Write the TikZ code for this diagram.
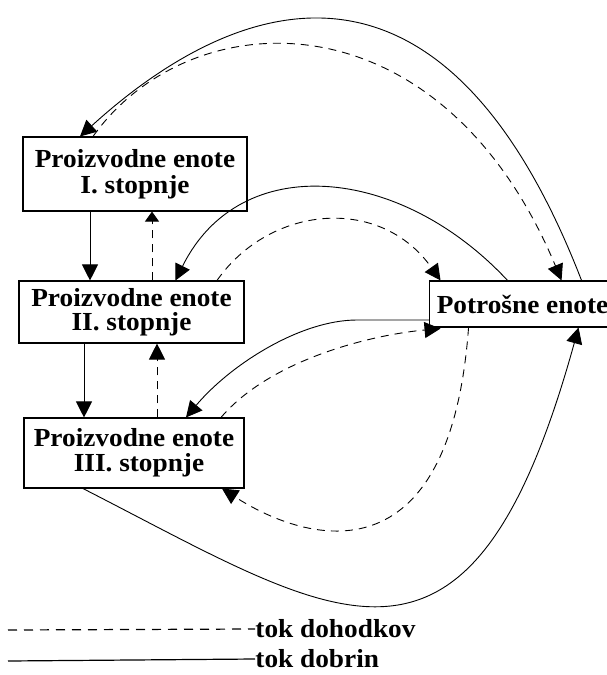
\documentclass[tikz,border=0pt]{standalone}
\usepackage{fontspec}
\setmainfont{Liberation Serif}[FakeStretch=1.05]
\usetikzlibrary{arrows.meta}

\begin{document}
\begin{tikzpicture}[
  x=1pt, y=-1pt,
  font=\fontsize{26}{26}\selectfont\bfseries,
  >={Triangle[length=16pt,width=16pt]},
  line width=0.9pt,
  blk/.style={rectangle, draw=black, line width=1.1pt, align=center, inner sep=0pt},
  dsh/.style={dash pattern=on 8pt off 6pt},
]
\useasboundingbox (0,0) rectangle (607,675);
% production and consumption units
\node[blk, minimum width=224pt, minimum height=74pt] (prI) at (135,174) {Proizvodne enote\\I. stopnje};
\node[blk, minimum width=225pt, minimum height=62pt] (prII) at (131.5,312) {Proizvodne enote\\[-2pt]II. stopnje};
\node[blk, minimum width=220pt, minimum height=70pt] (prIII) at (134,453) {Proizvodne enote\\[-1pt]\hspace*{10pt}III. stopnje};
\node[blk, minimum width=186pt, minimum height=46pt, anchor=west] (pot) at (429,304) {Potrošne enote};
% flows between the stages
\draw[->] ([xshift=-45pt]prI.south) -- ([xshift=-45pt]prI.south |- prII.north);
\draw[->, dsh, >={Triangle[length=10pt,width=14pt]}] ([xshift=17pt]prI.south |- prII.north) -- ([xshift=17pt]prI.south);
\draw[->] ([xshift=-47.5pt]prII.south) -- ([xshift=-47.5pt]prII.south |- prIII.north);
\draw[->, dsh] ([xshift=25.5pt]prII.south |- prIII.north) -- ([xshift=25.5pt]prII.south);
% flows to and from the consumers
\draw[->] ([xshift=59pt]pot.north) .. controls (440,-85) and (230,0) .. ([xshift=-55pt]prI.north);
\draw[->, dsh] ([xshift=-42pt]prI.north) .. controls (190,0) and (440,-10) .. ([xshift=39pt]pot.north);
\draw[->] ([xshift=-15pt]pot.north) .. controls (400,165) and (240,150) .. ([xshift=44pt]prII.north);
\draw[->, dsh] ([xshift=85.5pt]prII.north) .. controls (270,205) and (380,195) .. ([xshift=-82pt]pot.north);
\draw[->] ([yshift=-16pt]pot.west) -- ++(-72,0) .. controls (300,320) and (230,365) .. ([xshift=52pt]prIII.north);
\draw[->, dsh] ([xshift=87pt]prIII.north) .. controls (270,360) and (370,335) .. ([xshift=-82pt,yshift=-1pt]pot.south);
\draw[->, dsh] ([xshift=-54pt]pot.south) .. controls (450,580) and (310,545) .. ([xshift=88pt]prIII.south);
\draw[->] ([xshift=-51pt]prIII.south) .. controls (340,620) and (470,720) .. ([xshift=56pt]pot.south);
% legend
\coordinate (ldoh) at (8,630);
\coordinate (ldob) at (8,661);
\node[anchor=west, inner sep=0pt] (legdoh) at (255,629) {tok dohodkov};
\node[anchor=west, inner sep=0pt] (legdob) at (255,659) {tok dobrin};
\draw[dsh, dash pattern=on 9pt off 7pt, line width=1.2pt] (ldoh) -- (legdoh.west);
\draw[line width=1.2pt] (ldob) -- (legdob.west);
\end{tikzpicture}
\end{document}
